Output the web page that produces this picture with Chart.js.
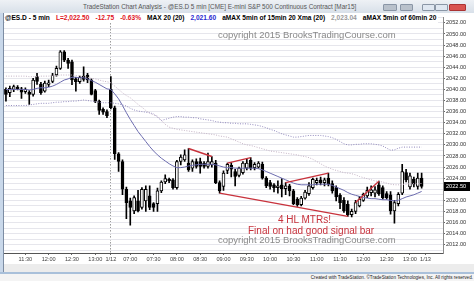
<!DOCTYPE html>
<html>
<head>
<meta charset="utf-8">
<script src="https://cdn.jsdelivr.net/npm/chart.js@4.4.1/dist/chart.umd.min.js"></script>
<style>
  body { margin: 0; width: 474px; height: 281px; overflow: hidden; background: #fff; position: relative;
         font-family: "Liberation Sans", Arial, sans-serif; }
  #titleBar { position: absolute; left: 0; top: 0; width: 474px; height: 13px;
              background: linear-gradient(#eef1f5, #d8e0e9); }
  #titleBar .title { position: absolute; left: 83px; top: 3px; font-size: 6.4px; color: #555; white-space: nowrap; }
  .btn { position: absolute; top: 4px; height: 7px; border: 1px solid #8a96a6; border-radius: 1px; box-sizing: border-box; }
  #leftEdge { position: absolute; left: 0; top: 13px; width: 4px; height: 260px; background: #c9d8ea; border-right: 1px solid #7d8da3; box-sizing: border-box; }
  #chartBox { position: absolute; left: 4px; top: 13px; width: 470px; height: 252px; }
  #legendRow { position: absolute; left: 5px; top: 13px; width: 433px; height: 10px; background: #fff; overflow: hidden;
               font-size: 6.6px; font-weight: bold; white-space: nowrap; line-height: 10px; }
  #legendRow span { margin-right: 6px; }
  .note { position: absolute; white-space: nowrap; }
  .copy { color: #8a8a8a; font-size: 9.5px; }
  .red { color: #c8323c; font-size: 10px; }
  #scrollBar { position: absolute; left: 4px; top: 264px; width: 470px; height: 8px; background: #ececec; }
  #statusBar { position: absolute; left: 0; top: 272px; width: 474px; height: 9px; background: #f4f4f4; border-top: 2px solid #a9c0da; box-sizing: border-box; }
  #statusBar span { position: absolute; right: 1px; top: 1px; font-size: 4.6px; color: #222; white-space: nowrap; }
</style>
</head>
<body>

<div id="titleBar">
  <span class="title">TradeStation Chart Analysis - @ES.D 5 min [CME] E-mini S&amp;P 500 Continuous Contract [Mar15]</span>
  <div class="btn" style="left:383px;width:14px;background:#b9c1cb;"></div>
  <div class="btn" style="left:400px;width:13px;background:#b9c1cb;"></div>
  <div class="btn" style="left:422px;width:13px;background:#dfe7f1;"></div>
  <div class="btn" style="left:435px;width:13px;background:#dfe7f1;"></div>
  <div class="btn" style="left:449px;width:17px;background:#d9534f;border-color:#a33;"></div>
</div>
<div id="leftEdge"></div>

<div id="chartBox"><canvas id="esChart" width="470" height="252"></canvas></div>

<div id="legendRow"><span style="color:#000;">@ES.D - 5 min</span><span style="color:#e0141e;">L=2,022.50</span><span style="color:#e0141e;">-12.75</span><span style="color:#e0141e;">-0.63%</span><span style="color:#000;">MAX 20 (20)</span><span style="color:#2a2ad0;">2,021.60</span><span style="color:#000;">aMAX 5min of 15min 20 Xma (20)</span><span style="color:#9a9a9a;">2,023.04</span><span style="color:#000;">aMAX 5min of 60min 20 Xma (20)</span></div>

<div class="note copy" style="left:218px;top:29px;">copyright 2015 BrooksTradingCourse.com</div>
<div class="note red" style="left:278px;top:214px;">4 HL MTRs!</div>
<div class="note red" style="left:248px;top:225px;">Final on had good signal bar</div>
<div class="note copy" style="left:218px;top:234px;">copyright 2015 BrooksTradingCourse.com</div>

<div id="scrollBar"></div>
<div id="statusBar"><span>Created with TradeStation. ©TradeStation Technologies, Inc. All rights reserved.</span></div>

<script>
// Two sessions of 5 min bars: end of 1/9 and 1/12
const day1Start = '11:05', day1End = '13:15';
const day2Start = '06:35', day2End = '13:15';
const dayBreakLabel = '1/12';
const nextDayLabel = '1/13';
const blankSlots = 4;

// OHLC, day 1 (27 bars) then day 2 (81 bars)
const opens = [
  2040.0, 2039.4, 2040.0, 2040.4, 2040.1, 2039.6, 2039.5, 2039.1, 2042.3, 2040.9,
  2039.7, 2040.9, 2041.45, 2042.6, 2043.8, 2046.8, 2045.3, 2045.0, 2041.9, 2041.4,
  2042.4, 2042.6, 2041.7, 2039.8, 2037.9, 2036.4, 2036.0,
  2040.0, 2036.7, 2028.4, 2027.0, 2022.0, 2019.9, 2018.1, 2019.9, 2018.7, 2019.9,
  2020.8, 2019.4, 2019.4, 2021.7, 2023.3, 2023.8, 2023.7, 2022.3, 2027.0, 2027.3,
  2026.7, 2025.8, 2027.0, 2027.0, 2026.7, 2026.1, 2026.4, 2026.7, 2023.2, 2022.5,
  2025.4, 2026.3, 2025.2, 2024.5, 2025.0, 2025.8, 2027.2, 2025.9, 2026.0, 2026.5,
  2024.0, 2023.2, 2022.8, 2022.3, 2022.8, 2022.1, 2022.6, 2021.7, 2020.2, 2019.2,
  2020.4, 2021.2, 2022.3, 2023.2, 2023.7, 2023.2, 2024.0, 2023.0, 2022.3, 2020.9,
  2020.0, 2019.3, 2017.4, 2018.0, 2019.0, 2020.0, 2020.8, 2021.4, 2021.3, 2022.8,
  2022.3, 2021.2, 2021.0, 2018.1, 2019.4, 2021.3, 2025.0, 2022.4, 2023.8, 2022.5,
  2024.0
];
const highs = [
  2040.3, 2040.6, 2040.8, 2040.7, 2040.4, 2040.3, 2039.8, 2042.0, 2042.9, 2041.3,
  2041.5, 2041.7, 2042.9, 2044.2, 2047.0, 2047.0, 2045.6, 2045.3, 2042.2, 2042.4,
  2044.1, 2042.9, 2041.9, 2040.0, 2038.1, 2036.7, 2036.3,
  2042.3, 2037.0, 2028.6, 2027.3, 2022.4, 2020.4, 2020.8, 2021.8, 2022.3, 2022.6,
  2022.6, 2019.6, 2022.2, 2023.5, 2024.6, 2024.0, 2023.9, 2027.2, 2028.2, 2029.1,
  2029.35, 2027.3, 2027.5, 2027.6, 2027.0, 2028.5, 2027.9, 2027.2, 2023.5, 2025.3,
  2026.7, 2026.8, 2025.6, 2026.0, 2027.0, 2027.4, 2027.7, 2026.8, 2027.0, 2026.9,
  2024.3, 2023.6, 2023.0, 2023.5, 2023.9, 2023.2, 2022.9, 2022.0, 2020.5, 2020.7,
  2021.8, 2023.2, 2024.0, 2024.0, 2024.2, 2024.0, 2024.9, 2023.5, 2022.6, 2021.2,
  2020.5, 2019.9, 2018.4, 2020.0, 2020.7, 2021.3, 2022.4, 2022.6, 2022.5, 2023.45,
  2022.6, 2021.6, 2021.6, 2020.0, 2021.4, 2026.5, 2025.6, 2024.9, 2024.2, 2024.9,
  2024.9
];
const lows = [
  2037.9, 2038.7, 2039.6, 2039.9, 2038.4, 2039.3, 2037.3, 2038.8, 2040.9, 2039.1,
  2039.5, 2040.5, 2041.2, 2042.4, 2043.6, 2045.0, 2043.8, 2040.85, 2039.7, 2041.1,
  2041.5, 2041.2, 2039.0, 2037.6, 2035.5, 2035.5, 2034.9,
  2036.5, 2027.4, 2025.2, 2021.0, 2016.7, 2015.5, 2017.6, 2017.9, 2018.4, 2018.0,
  2018.3, 2018.0, 2018.0, 2021.4, 2023.0, 2023.2, 2022.0, 2022.0, 2026.4, 2027.0,
  2025.2, 2025.2, 2025.8, 2024.9, 2025.8, 2025.8, 2026.0, 2023.0, 2021.3, 2021.8,
  2024.8, 2024.2, 2022.6, 2024.2, 2024.7, 2025.5, 2025.5, 2025.5, 2025.8, 2023.8,
  2022.3, 2022.0, 2021.5, 2021.3, 2020.6, 2021.0, 2020.8, 2019.2, 2018.9, 2019.0,
  2020.2, 2020.9, 2022.0, 2022.8, 2022.8, 2022.6, 2022.6, 2021.3, 2019.9, 2018.5,
  2017.8, 2017.1, 2017.0, 2017.6, 2018.8, 2019.8, 2020.5, 2020.8, 2020.6, 2020.9,
  2020.2, 2020.2, 2017.5, 2015.9, 2019.0, 2021.0, 2023.3, 2022.0, 2022.4, 2022.0,
  2022.2
];
const closes = [
  2039.1, 2040.2, 2040.5, 2040.1, 2039.5, 2040.0, 2039.1, 2041.7, 2041.45, 2039.4,
  2041.15, 2041.2, 2042.6, 2043.8, 2046.8, 2045.3, 2044.7, 2041.7, 2041.4, 2042.2,
  2041.8, 2041.7, 2039.1, 2037.9, 2036.2, 2035.9, 2035.25,
  2036.7, 2028.4, 2027.0, 2022.0, 2019.6, 2018.7, 2020.5, 2018.1, 2022.0, 2022.0,
  2018.7, 2018.7, 2021.7, 2023.3, 2023.9, 2023.5, 2022.3, 2027.0, 2027.8, 2028.2,
  2025.5, 2027.0, 2026.1, 2026.1, 2026.1, 2027.0, 2027.0, 2023.2, 2021.7, 2024.9,
  2026.5, 2025.6, 2024.3, 2025.8, 2026.7, 2026.7, 2025.8, 2026.5, 2026.7, 2024.0,
  2022.6, 2022.5, 2022.3, 2022.6, 2022.1, 2022.6, 2021.7, 2019.4, 2019.2, 2020.4,
  2021.5, 2022.6, 2023.8, 2023.6, 2023.2, 2023.7, 2022.9, 2021.7, 2020.6, 2019.6,
  2018.1, 2017.4, 2018.0, 2019.6, 2020.2, 2021.1, 2021.8, 2021.9, 2021.9, 2021.2,
  2020.5, 2020.5, 2018.1, 2019.6, 2021.1, 2025.2, 2023.7, 2024.4, 2022.9, 2024.0,
  2022.5
];

// MAX 20 (5 min average, solid blue)
const maFast = [
  2040.0, 2040.0, 2040.0, 2040.0, 2040.0, 2040.0, 2039.9, 2040.0, 2040.2, 2040.3,
  2040.3, 2040.4, 2040.6, 2040.9, 2041.3, 2041.7, 2041.9, 2042.2, 2042.2, 2042.1,
  2042.1, 2041.9, 2041.6, 2041.3, 2040.9, 2040.5, 2040.1,
  2040.0, 2039.2, 2038.3, 2037.1, 2035.8, 2034.6, 2033.5, 2032.4, 2031.5, 2030.6,
  2029.7, 2028.9, 2028.2, 2027.6, 2027.1, 2026.6, 2026.2, 2025.9, 2025.9, 2026.0,
  2026.2, 2026.3, 2026.4, 2026.5, 2026.5, 2026.5, 2026.5, 2026.4, 2026.2, 2026.0,
  2025.9, 2025.9, 2025.8, 2025.8, 2025.8, 2025.8, 2025.8, 2025.8, 2025.7, 2025.5,
  2025.2, 2024.9, 2024.6, 2024.3, 2024.0, 2023.7, 2023.4, 2023.1, 2022.9, 2022.8,
  2022.8, 2022.8, 2022.8, 2022.9, 2022.9, 2022.9, 2022.9, 2022.7, 2022.4, 2022.1,
  2021.8, 2021.4, 2021.1, 2020.9, 2020.7, 2020.5, 2020.4, 2020.3, 2020.3, 2020.2,
  2020.1, 2020.1, 2020.0, 2019.9, 2020.0, 2020.3, 2020.6, 2020.8, 2021.0, 2021.3,
  2021.6
];
// 15 min average (light dotted)
const ma15 = [
  2042.4, 2042.4, 2042.4, 2042.4, 2042.4, 2042.4, 2042.3, 2042.3, 2042.3, 2042.4,
  2042.4, 2042.4, 2042.5, 2042.5, 2042.6, 2042.6, 2042.6, 2042.6, 2042.5, 2042.4,
  2042.3, 2042.2, 2042.0, 2041.9, 2041.7, 2041.5, 2041.4,
  2041.2, 2040.6, 2040.0, 2039.4, 2038.9, 2038.5, 2037.9, 2037.3, 2036.8, 2036.2,
  2035.7, 2035.4, 2035.2, 2034.4, 2033.7, 2033.2, 2033.0, 2032.8, 2032.7, 2032.6,
  2032.5, 2032.4, 2032.3, 2032.2, 2032.1, 2032.0, 2031.9, 2031.8, 2031.6, 2031.5,
  2031.4, 2031.1, 2030.8, 2030.5, 2030.2, 2030.0, 2029.9, 2029.7, 2029.5, 2029.3,
  2029.1, 2028.9, 2028.8, 2028.7, 2028.6, 2028.5, 2028.4, 2028.3, 2028.2, 2028.0,
  2027.9, 2027.7, 2027.4, 2027.0, 2026.6, 2026.2, 2025.9, 2025.6, 2025.4, 2025.2,
  2025.0, 2024.9, 2024.8, 2024.6, 2024.3, 2024.1, 2023.9, 2023.7, 2023.5, 2023.4,
  2023.3, 2023.1, 2022.9, 2022.8, 2022.8, 2022.9, 2022.9, 2023.0, 2023.0, 2023.0,
  2023.04
];
// 60 min average (purple dotted)
const ma60 = [
  2037.1, 2037.1, 2037.1, 2037.1, 2037.1, 2037.1, 2037.2, 2037.3, 2037.4, 2037.5,
  2037.5, 2037.5, 2037.6, 2037.7, 2037.7, 2037.8, 2037.8, 2037.9, 2037.9, 2038.0,
  2038.1, 2038.0, 2037.9, 2037.8, 2037.7, 2037.6, 2037.6,
  2037.6, 2037.5, 2037.4, 2037.2, 2037.0, 2036.6, 2036.3, 2036.1, 2036.0, 2035.9,
  2035.8, 2035.6, 2035.0, 2034.4, 2034.6, 2034.8, 2035.0, 2035.1, 2035.1, 2035.0,
  2035.0, 2034.9, 2034.9, 2034.7, 2034.6, 2034.5, 2034.4, 2034.2, 2034.1, 2034.0,
  2034.0, 2033.9, 2033.9, 2033.8, 2033.8, 2033.8, 2033.7, 2033.6, 2033.5, 2033.3,
  2033.1, 2032.8, 2032.6, 2032.3, 2032.0, 2031.8, 2031.6, 2031.4, 2031.4, 2031.5,
  2031.6, 2031.7, 2031.7, 2031.7, 2031.7, 2031.6, 2031.5, 2031.3, 2031.0, 2030.6,
  2030.2, 2030.0, 2030.0, 2030.1, 2030.1, 2030.2, 2030.2, 2030.2, 2030.1, 2030.0,
  2029.8, 2029.4, 2029.05, 2029.1, 2029.4, 2029.6, 2029.6, 2029.6, 2029.6, 2029.6,
  2029.6
];

// Hand drawn red trend lines (bar index -> price)
const trendLines = [
  { from: 47, to: 53, start: 2029.35, end: 2027.9 },
  { from: 57, to: 63, start: 2026.7, end: 2027.7 },
  { from: 55, to: 88, start: 2021.3, end: 2017.1 },
  { from: 72, to: 83, start: 2023.2, end: 2024.9 },
  { from: 90, to: 96, start: 2019.6, end: 2023.45 }
];

// Price axis
const priceMin = 2010.5, priceMax = 2053;
const labelEvery = 2;

const candleBlack = '#000';
const trendRed = '#c8323c';

// 5 min time labels between two times
function buildTimes(start, end) {
    const toMin = t => parseInt(t.slice(0, 2)) * 60 + parseInt(t.slice(3));
    const out = [];
    for (let m = toMin(start); m <= toMin(end); m += 5) {
        out.push(String(Math.floor(m / 60)).padStart(2, '0') + ':' + String(m % 60).padStart(2, '0'));
    }
    return out;
}

const day1Times = buildTimes(day1Start, day1End);
const day2Times = buildTimes(day2Start, day2End);
const dayBreakIndex = day1Times.length;
const categories = [...day1Times, ...day2Times, nextDayLabel, ...Array(blankSlots).fill('')];

function tickText(index) {
    const t = categories[index];
    if (index === dayBreakIndex) return dayBreakLabel;
    if (t === nextDayLabel) return t;
    if (t.endsWith(':00') || t.endsWith(':30')) return t;
    return '';
}

function trendData(line) {
    const data = Array(categories.length).fill(null);
    data[line.from] = line.start;
    data[line.to] = line.end;
    return data;
}

// Last price box on the axis
const lastPricePlugin = {
    id: 'lastPrice',
    afterDraw(chart) {
        const y = chart.scales.y;
        const last = closes[closes.length - 1];
        const py = y.getPixelForValue(last);
        const ctx = chart.ctx;
        ctx.save();
        ctx.fillStyle = '#000';
        ctx.fillRect(y.left + 1, Math.round(py) - 4, 26, 9);
        ctx.fillStyle = '#fff';
        ctx.font = '5.6px "Liberation Sans", Arial, sans-serif';
        ctx.textBaseline = 'middle';
        ctx.fillText(last.toFixed(2), y.left + 3, Math.round(py) + 0.5);
        ctx.restore();
    }
};

Chart.defaults.font.family = '"Liberation Sans", Arial, sans-serif';

const ctx = document.getElementById('esChart').getContext('2d');
const trendSets = trendLines.map(line => ({
    type: 'line',
    data: trendData(line),
    borderColor: trendRed,
    borderWidth: 1.4,
    pointRadius: 0,
    spanGaps: true,
    order: 0
}));

new Chart(ctx, {
    type: 'bar',
    data: {
        labels: categories,
        datasets: [
            {
                // wicks
                data: highs.map((h, i) => [lows[i], h]),
                backgroundColor: candleBlack,
                barThickness: 1,
                grouped: false,
                order: 4
            },
            {
                // bodies
                data: opens.map((o, i) => [o, closes[i]]),
                backgroundColor: opens.map((o, i) => closes[i] >= o ? '#fff' : candleBlack),
                borderColor: candleBlack,
                borderWidth: 1,
                borderSkipped: false,
                barThickness: 3,
                grouped: false,
                order: 3
            },
            {
                type: 'line', data: ma15, borderColor: '#c4b2c4', borderWidth: 1,
                borderDash: [1, 1.5], pointRadius: 0, order: 2
            },
            {
                type: 'line', data: ma60, borderColor: '#9189bd', borderWidth: 1,
                borderDash: [1, 1.5], pointRadius: 0, order: 2
            },
            {
                type: 'line', data: maFast, borderColor: '#6c6caf', borderWidth: 1,
                pointRadius: 0, order: 1
            },
            ...trendSets
        ]
    },
    options: {
        responsive: false,
        animation: false,
        devicePixelRatio: 1,
        layout: { padding: 0 },
        plugins: {
            legend: { display: false },
            tooltip: { enabled: false }
        },
        scales: {
            x: {
                offset: true,
                afterFit(scale) { scale.height = 12; },
                grid: {
                    offset: false,
                    color: c => c.index === dayBreakIndex ? '#666' : 'rgba(0,0,0,0)',
                    tickColor: c => tickText(c.index) ? '#666' : 'rgba(0,0,0,0)',
                    tickLength: 2
                },
                border: { color: '#555', dash: [1, 2] },
                ticks: {
                    autoSkip: false,
                    maxRotation: 0,
                    padding: 1,
                    color: '#444',
                    font: { size: 5.6 },
                    callback: (value, index) => tickText(index)
                }
            },
            y: {
                position: 'right',
                min: priceMin,
                max: priceMax,
                afterFit(scale) { scale.width = 31; },
                grid: {
                    color: '#e6e6ec',
                    tickColor: c => c.tick && c.tick.value % labelEvery === 0 ? '#666' : 'rgba(0,0,0,0)',
                    tickLength: 2
                },
                border: { color: '#8a8a8a' },
                ticks: {
                    stepSize: 1,
                    includeBounds: false,
                    autoSkip: false,
                    padding: 1,
                    color: '#333',
                    font: { size: 5.6 },
                    callback: value => value % labelEvery === 0 ? value.toFixed(2) : ''
                }
            }
        }
    },
    plugins: [lastPricePlugin]
});
</script>
</body>
</html>
